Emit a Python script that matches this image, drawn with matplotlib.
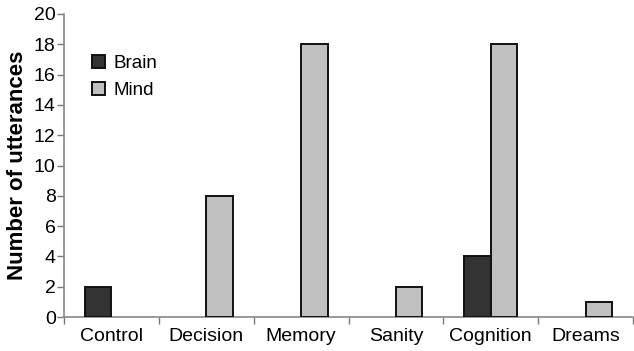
import matplotlib
matplotlib.use("Agg")
import matplotlib.pyplot as plt
import numpy as np

categories = ["Control", "Decision", "Memory", "Sanity", "Cognition", "Dreams"]
brain = [2, 0, 0, 0, 4, 0]
mind = [0, 8, 18, 2, 18, 1]

plt.rcParams['font.family'] = ['Liberation Sans', 'DejaVu Sans']

fig = plt.figure(figsize=(6.34, 3.51), dpi=100)
ax = fig.add_axes([64/634, 1-317/351, 569/634, 303/351])

x = np.arange(len(categories))
w = 0.28
bx = [xi - w/2 for xi, v in zip(x, brain) if v > 0]
bv = [v for v in brain if v > 0]
mx = [xi + w/2 for xi, v in zip(x, mind) if v > 0]
mv = [v for v in mind if v > 0]
ax.bar(bx, bv, width=w, color="#333333", edgecolor="#111111", linewidth=1.4, label="Brain", zorder=3)
ax.bar(mx, mv, width=w, color="#c0c0c0", edgecolor="#111111", linewidth=1.4, label="Mind", zorder=3)

ax.set_xlim(-0.5, -0.5 + 569/96)
ax.set_ylim(0, 20)
ax.set_yticks(range(0, 21, 2))
ax.set_xticks(np.arange(-0.5, 6, 1))
ax.set_xticklabels([])
ax.set_xticks(x, minor=True)
ax.set_xticklabels(categories, minor=True)
ax.tick_params(axis='x', which='minor', length=0, pad=8, labelsize=14)
ax.tick_params(axis='x', which='major', length=5, direction='out', color='#777777', width=1)
ax.tick_params(axis='y', length=5, direction='out', color='#777777', width=1, labelsize=14, pad=1)

for s in ['top', 'right']:
    ax.spines[s].set_visible(False)
for s in ['left', 'bottom']:
    ax.spines[s].set_color('#888888')
    ax.spines[s].set_linewidth(1.2)

ax.set_ylabel("Number of utterances", fontsize=16, fontweight='bold', labelpad=4)

ax.legend(loc='upper left', bbox_to_anchor=(0.02, 0.92), frameon=False, fontsize=13.5,
          handlelength=0.7, handleheight=0.7, handletextpad=0.45, labelspacing=0.5)

fig.savefig("out.png", dpi=100)
